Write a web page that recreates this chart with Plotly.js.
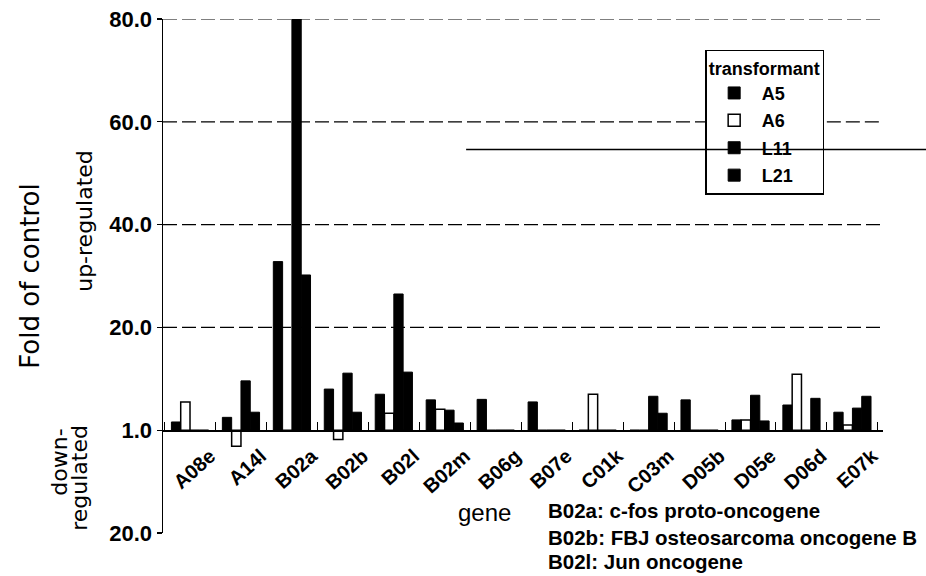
<!DOCTYPE html>
<html><head><meta charset="utf-8">
<script src="https://cdn.plot.ly/plotly-3.0.1.min.js"></script>
<style>html,body{margin:0;padding:0;background:#fff}#chart{width:926px;height:576px}</style>
</head><body><div id="chart"></div>
<script>
// categories (genes)
const genes = ['A08e','A14l','B02a','B02b','B02l','B02m','B06g','B07e','C01k','C03m','D05b','D05e','D06d','E07k'];
// series names (transformants)
const seriesNames = ['A5','A6','L11','L21'];
// values in axis units (0 = "1.0", positive = up-regulated, negative = down-regulated)
const valsA5  = [1.6, 2.5, 32.8, 8.0, 7.0, 5.9, 6.0, 5.5, 0, 0, 5.9, 2.0, 4.9, 3.5];
const valsA6  = [5.5, -3.1, 0, -1.8, 3.3, 4.1, 0, 0, 7.0, 0, 0, 2.0, 10.9, 1.0];
const valsL11 = [0, 9.6, 80, 11.1, 26.5, 3.9, 0, 0, 0, 6.6, 0, 6.8, 0, 4.3];
const valsL21 = [0, 3.5, 30.2, 3.5, 11.3, 1.4, 0, 0, 0, 3.3, 0, 1.8, 6.2, 6.6];
// y tick labels
const yTickVals = [-20, 0, 20, 40, 60, 80];
const yTickText = ['20.0', '1.0', '20.0', '40.0', '60.0', '80.0'];
const gridVals = [20, 40, 60, 80];
// text
const notes = ['B02a: c-fos proto-oncogene', 'B02b: FBJ osteosarcoma oncogene B', 'B02l: Jun oncogene'];

const FONT = 'Liberation Sans, Arial, Helvetica, sans-serif';
const fills = ['#000000', '#ffffff', '#000000', '#000000'];
const allVals = [valsA5, valsA6, valsL11, valsL21];

const traces = allVals.map((vals, i) => ({
  type: 'bar',
  name: seriesNames[i],
  x: genes,
  y: vals,
  legendgroup: 'g' + i,
  marker: { color: fills[i], line: { color: '#000', width: i === 1 ? 1.5 : 1 } },
  hoverinfo: 'x+y+name'
}));

// plot area: left 163, right 883, top 19, bottom 533
const shapes = [];
gridVals.forEach(v => {
  const seg = (v === 60) ? [[0, 0.753], [0.922, 1]] : [[0, 1]];
  seg.forEach(s => shapes.push({
    type: 'line', xref: 'paper', yref: 'y', x0: s[0], x1: s[1], y0: v, y1: v,
    line: { color: '#000', width: 1.2, dash: '14px,5px' }, layer: 'below'
  }));
});
// stray scan line crossing the legend
shapes.push({ type: 'line', xref: 'paper', yref: 'y', x0: 0.421, x1: 1.06, y0: 54.6, y1: 54.6,
  line: { color: '#000', width: 1.5 }, layer: 'above' });

const annotations = [
  { text: 'up-regulated', xref: 'paper', yref: 'paper', x: -0.110, y: 0.607, textangle: -90,
    showarrow: false, xanchor: 'center', yanchor: 'middle', font: { family: 'DejaVu Sans', size: 22, color: '#000' } },
  { text: 'down-', xref: 'paper', yref: 'paper', x: -0.145, y: 0.138, textangle: -90,
    showarrow: false, xanchor: 'center', yanchor: 'middle', font: { family: 'DejaVu Sans', size: 22, color: '#000' } },
  { text: 'regulated', xref: 'paper', yref: 'paper', x: -0.117, y: 0.107, textangle: -90,
    showarrow: false, xanchor: 'center', yanchor: 'middle', font: { family: 'DejaVu Sans', size: 22, color: '#000' } },
  { text: 'gene', xref: 'paper', yref: 'paper', x: 0.446, y: 0.039,
    showarrow: false, xanchor: 'center', yanchor: 'middle', font: { family: FONT, size: 24, color: '#000' } }
];
const noteY = [0.043, -0.008, -0.056];
notes.forEach((t, i) => annotations.push({
  text: t, xref: 'paper', yref: 'paper', x: 0.532, y: noteY[i], showarrow: false,
  xanchor: 'left', yanchor: 'middle', font: { family: FONT, size: 20.5, weight: 'bold', color: '#000' }
}));

const layout = {
  width: 926, height: 576,
  margin: { l: 163, r: 43, t: 19, b: 43, pad: 0 },
  paper_bgcolor: '#ffffff', plot_bgcolor: 'rgba(0,0,0,0)',
  font: { family: FONT, color: '#000' },
  barmode: 'group', bargap: 0.27, bargroupgap: 0,
  showlegend: true,
  legend: {
    x: 0.753, y: 0.94, xanchor: 'left', yanchor: 'top',
    bgcolor: 'rgba(0,0,0,0)', bordercolor: '#000', borderwidth: 1.5,
    title: { text: 'transformant', font: { family: FONT, size: 18, weight: 'bold' } },
    font: { family: FONT, size: 18, weight: 'bold' },
    traceorder: 'grouped', tracegroupgap: 1, itemwidth: 45
  },
  xaxis: {
    type: 'category', range: [-0.53, 13.6], anchor: 'free', position: 0.2,
    showline: true, linecolor: '#000', linewidth: 1.5,
    ticks: 'inside', tickson: 'boundaries', ticklen: 8, tickwidth: 1, tickcolor: '#000',
    tickangle: -42, tickfont: { family: FONT, size: 20, weight: 'bold' },
    ticklabelshift: 20, ticklabelstandoff: 5,
    showgrid: false, zeroline: false, fixedrange: true, automargin: false
  },
  yaxis: {
    range: [-20, 80], tickvals: yTickVals, ticktext: yTickText,
    showline: true, linecolor: '#000', linewidth: 1.5,
    ticks: 'outside', ticklen: 5, tickwidth: 1.2, tickcolor: '#000',
    tickfont: { family: FONT, size: 22, weight: 'bold' },
    showgrid: false, zeroline: false, fixedrange: true, automargin: false,
    title: { text: 'Fold of control', font: { family: 'DejaVu Sans', size: 26 }, standoff: 62 }
  },
  shapes: shapes,
  annotations: annotations
};

Plotly.newPlot('chart', traces, layout, { displayModeBar: false, staticPlot: true });
</script>
</body></html>
